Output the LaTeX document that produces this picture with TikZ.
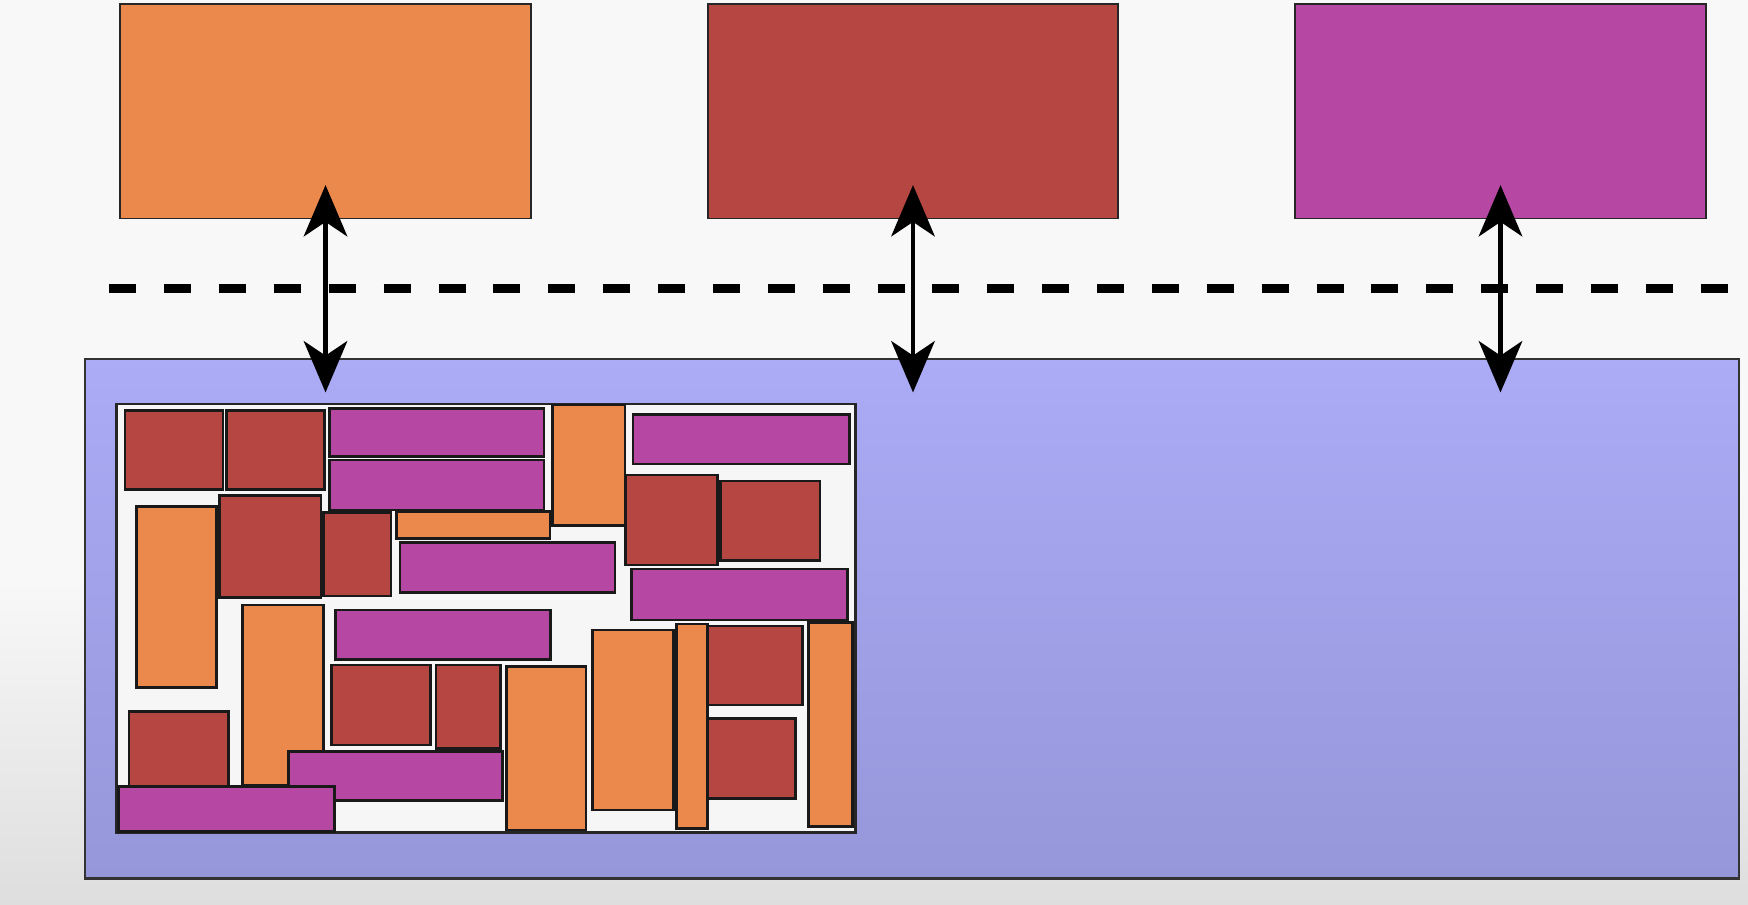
\documentclass[tikz,border=0pt]{standalone}
\usetikzlibrary{arrows.meta}
\definecolor{bg}{RGB}{248,248,248}
\definecolor{bgdark}{RGB}{222,222,222}
\definecolor{cOr}{RGB}{235,136,76}
\definecolor{cRd}{RGB}{182,70,66}
\definecolor{cMg}{RGB}{182,72,164}
\definecolor{cBlTop}{RGB}{171,171,246}
\definecolor{cBlBot}{RGB}{150,150,218}
\definecolor{cIn}{RGB}{246,246,246}
\tikzset{
  bigbox/.style={draw=black!85, line width=0.5pt},
  blk/.style={draw=black!90, line width=0.65pt},
  orb/.style={blk, fill=cOr},
  rdb/.style={blk, fill=cRd},
  mgb/.style={blk, fill=cMg},
  dbl/.style={line width=1.2pt, {Stealth[length=4.6mm,width=3.9mm,inset=1.3mm]}-{Stealth[length=4.6mm,width=3.9mm,inset=1.3mm]}},
  divider/.style={line width=2.3pt, dash pattern=on 0.242cm off 0.25cm}
}
\begin{document}
\begin{tikzpicture}[x=0.01cm,y=-0.01cm]
\useasboundingbox (0,0) rectangle (1568,811);
\fill[bg] (0,0) rectangle (1568,811);
\shade[top color=bg, bottom color=bgdark] (0,520) rectangle (1568,811);
% top boxes
\draw[bigbox, fill=cOr] (108,4) rectangle (476,196);
\draw[bigbox, fill=cRd] (635,4) rectangle (1003,196);
\draw[bigbox, fill=cMg] (1162,4) rectangle (1530,196);
% divider
\coordinate (dl) at (98,259);
\coordinate (dr) at (1568,259);
\draw[divider] (dl) -- (dr);
% big blue box
\shade[top color=cBlTop, bottom color=cBlBot] (76,322) rectangle (1560,788);
\draw[black!80, line width=0.6pt] (76,322) rectangle (1560,788);
% inner box
\draw[fill=cIn, draw=black!85, line width=0.7pt] (104.5,362.5) rectangle (767.5,746.5);
% packed blocks
\draw[rdb] (112,368) rectangle (200,439);
\draw[rdb] (203,368) rectangle (291,439);
\draw[orb] (122.6,454.5) rectangle (194.4,616.5);
\draw[rdb] (196.7,444.6) rectangle (288,535.8);
\draw[rdb] (290,459.9) rectangle (350.7,534.6);
\draw[mgb] (295.4,366.3) rectangle (488,409.7);
\draw[mgb] (295.4,412.6) rectangle (488,457.5);
\draw[orb] (355.8,459) rectangle (493.4,482.9);
\draw[mgb] (358.8,486.8) rectangle (551.7,531.3);
\draw[orb] (495.8,363.3) rectangle (560.6,471.5);
\draw[mgb] (568,371.7) rectangle (761.8,416.2);
\draw[rdb] (561.2,426) rectangle (643.5,506.8);
\draw[rdb] (646.5,431.5) rectangle (735.6,503);
\draw[mgb] (566.6,510.4) rectangle (760.4,556.2);
\draw[orb] (217.7,542.7) rectangle (290,704.2);
\draw[mgb] (301.1,547.2) rectangle (494,591.4);
\draw[rdb] (297.5,596.5) rectangle (386.3,668.3);
\draw[rdb] (391.1,596.5) rectangle (449.1,671.3);
\draw[rdb] (115.7,638.4) rectangle (204.8,705.1);
\draw[mgb] (258.6,674.3) rectangle (450.9,718.2);
\draw[mgb] (106.1,705.7) rectangle (299.9,746);
\draw[orb] (454.5,598) rectangle (525.7,744.5);
\draw[orb] (531.3,565.1) rectangle (604,726.6);
\draw[orb] (607,559.7) rectangle (634.8,743);
\draw[rdb] (634.8,561.5) rectangle (720,632.4);
\draw[rdb] (634.8,644.3) rectangle (713.8,716.1);
\draw[orb] (725.1,558.5) rectangle (764.5,741.5);
% connectors
\coordinate (a1t) at (292,166); \coordinate (a1b) at (292,352);
\coordinate (a2t) at (819,166); \coordinate (a2b) at (819,352);
\coordinate (a3t) at (1346,166); \coordinate (a3b) at (1346,352);
\draw[dbl] (a1t) -- (a1b);
\draw[dbl] (a2t) -- (a2b);
\draw[dbl] (a3t) -- (a3b);
\end{tikzpicture}
\end{document}
